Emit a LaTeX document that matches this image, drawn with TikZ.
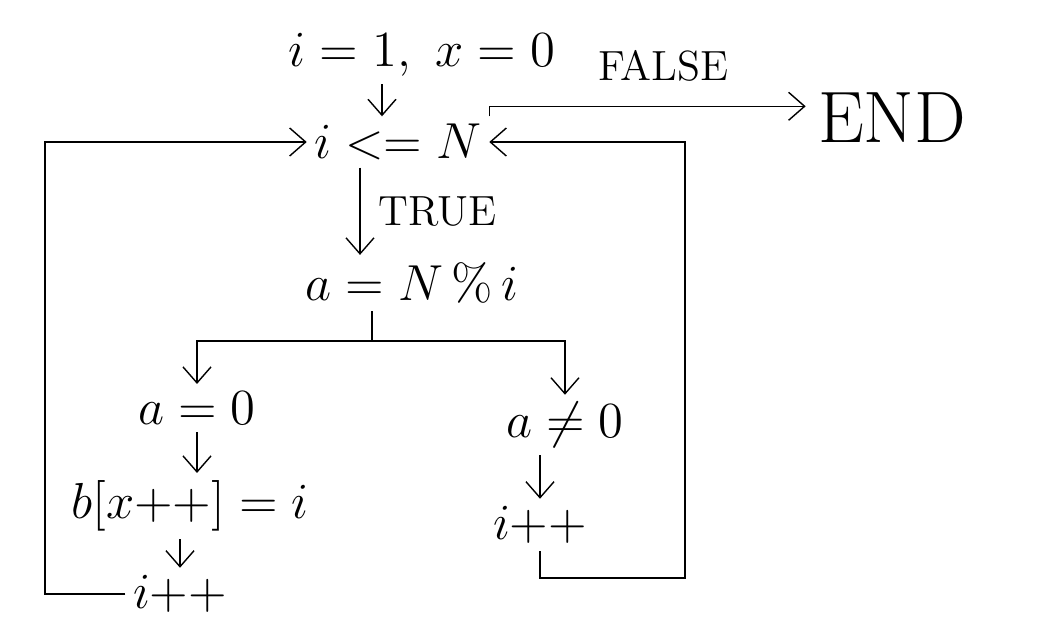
\documentclass[tikz,border=0pt]{standalone}
\usepackage{tikz}
\usetikzlibrary{arrows.meta}

\begin{document}
\begin{tikzpicture}[
    txt/.style={font=\Large, inner sep=2pt},
    lbl/.style={font=\large, inner sep=2pt},
    arr/.style={-{Straight Barb[length=1.6mm,width=2.8mm]}}
  ]
    % fix the page size
    \useasboundingbox (0,0) rectangle (10.5,6.34);

    % draw nodes
    \node[txt] (init) at (4.22,5.79) {$i = 1,\ x = 0$};
    \node[txt] (cond) at (3.98,4.92) {$i <= N$};
    \node[txt] (calc) at (4.12,3.51) {$a = N\,\%\,i$};
    \node[txt] (zero) at (1.97,2.26) {$a = 0$};
    \node[txt] (store) at (1.90,1.28) {$b[x{+}{+}] = i$};
    \node[txt] (incL) at (1.80,0.40) {$i{+}{+}$};
    \node[txt] (nonzero) at (5.65,2.09) {$a \neq 0$};
    \node[txt] (incR) at (5.40,1.09) {$i{+}{+}$};
    \node[font=\huge] (endn) at (8.92,5.16) {END};

    % draw helper points
    \coordinate (fup) at ([yshift=1mm]cond.north east);
    \coordinate (split) at ([xshift=-4mm,yshift=-3mm]calc.south);
    \coordinate (lloop) at (0.45,0.40);
    \coordinate (rloop) at (6.85,0.56);

    % draw arrows
    \draw[arr] ([xshift=-4mm]init.south) -- ([xshift=-4mm]init.south |- cond.north);
    \draw[arr] ([xshift=-3.8mm]cond.south) -- ([xshift=-3.8mm]cond.south |- calc.north)
      node[lbl, midway, right=3pt] {TRUE};
    \draw[arr] (cond.north east) -- (fup) -- (fup -| endn.west)
      node[lbl, pos=0.55, above=5pt] {FALSE};
    \draw ([xshift=-4mm]calc.south) -- (split);
    \draw[arr] (split) -| (zero.north);
    \draw[arr] (split) -| (nonzero.north);
    \draw[arr] (zero) -- (zero |- store.north);
    \draw[arr] (store.south -| incL) -- (incL);
    \draw[arr] (nonzero.south -| incR.north) -- (incR.north);

    % draw loops back
    \draw[arr] (incL.west) -- (lloop) |- (cond.west);
    \draw[arr] (incR.south) |- (rloop) |- (cond.east);

  \end{tikzpicture}
\end{document}
